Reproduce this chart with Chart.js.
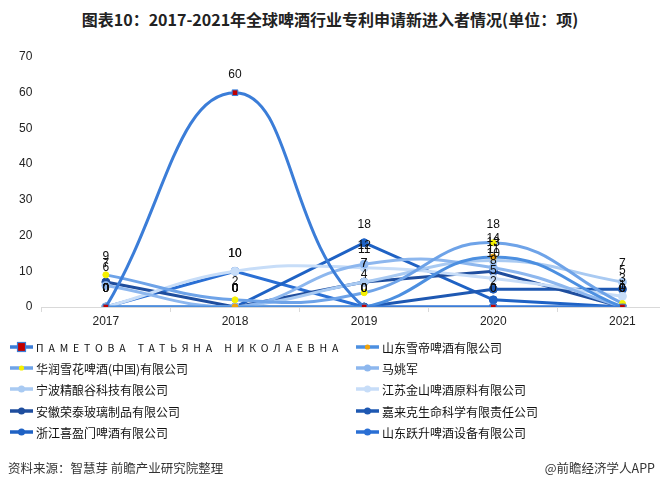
<!DOCTYPE html>
<html>
<head>
<meta charset="utf-8">
<script src="https://cdn.jsdelivr.net/npm/chart.js@4.4.1/dist/chart.umd.min.js"></script>
<style>
  html, body { margin:0; padding:0; width:660px; height:486px; overflow:hidden; background:#fff; font-family:"Noto Sans CJK SC","Noto Sans",sans-serif; }
  #title { position:absolute; left:0; top:8px; width:660px; text-align:center; font-size:16px; font-weight:bold; color:#222; line-height:22px; }
  #wrap { position:absolute; left:0; top:0; width:692px; height:335px; }
  #legend { position:absolute; left:0; top:0; width:660px; height:486px; pointer-events:none; }
  .lg { position:absolute; height:18px; display:flex; align-items:center; font-size:12px; color:#111; white-space:nowrap; }
  .lg svg { margin-right:3px; }
  .ru { font-size:10.5px; letter-spacing:4.85px; }
  #src { position:absolute; left:8px; top:458px; font-size:12.5px; color:#333; }
  #app { position:absolute; right:5px; top:458px; font-size:12.5px; color:#333; }
</style>
</head>
<body>
<div id="title">图表10：2017-2021年全球啤酒行业专利申请新进入者情况(单位：项)</div>
<div id="wrap"><canvas id="c" width="692" height="335"></canvas></div>
<div id="legend"></div>
<div id="src">资料来源：智慧芽 前瞻产业研究院整理</div>
<div id="app">@前瞻经济学人APP</div>
<script>
const years = ["2017", "2018", "2019", "2020", "2021"];
const yTicks = [0, 10, 20, 30, 40, 50, 60, 70];
const seriesNames = [
  "ПАМЕТОВА ТАТЬЯНА НИКОЛАЕВНА",
  "山东雪帝啤酒有限公司",
  "华润雪花啤酒(中国)有限公司",
  "马姚军",
  "宁波精酿谷科技有限公司",
  "江苏金山啤酒原料有限公司",
  "安徽荣泰玻璃制品有限公司",
  "嘉来克生命科学有限责任公司",
  "浙江喜盈门啤酒有限公司",
  "山东跃升啤酒设备有限公司"
];
const pametova   = [0, 60, 0, 0, 0];
const xuedi      = [0, 0, 0, 14, 0];
const huarun     = [9, 2, 4, 18, 1];
const mayaojun   = [6, 0, 12, 11, 0];
const ningbo     = [0, 0, 7, 13, 7];
const jiangsu    = [0, 10, 11, 8, 3];
const anhui      = [7, 0, 7, 10, 0];
const jialaike   = [0, 0, 0, 5, 5];
const zhejiang   = [0, 0, 18, 2, 0];
const yuesheng   = [0, 10, 0, 0, 0];
const seriesValues = [pametova, xuedi, huarun, mayaojun, ningbo, jiangsu, anhui, jialaike, zhejiang, yuesheng];

const lineColors = ["#3B7DD8", "#4C8FE0", "#6EA3E8", "#8DB7EE", "#A9CAF2", "#C7DDF8", "#1F4E9E", "#1E58B2", "#1F62C4", "#2A6FD4"];
const markerColors = ["#C00000", "#F0A30A", "#F5F000", "#8DB7EE", "#A9CAF2", "#C7DDF8", "#1F4E9E", "#1E58B2", "#1F62C4", "#2A6FD4"];
const smooth = [true, true, true, true, true, true, false, false, false, false];

const datasets = seriesValues.map((vals, i) => ({
  label: seriesNames[i],
  data: vals,
  borderColor: lineColors[i],
  borderWidth: 3,
  tension: smooth[i] ? 0.45 : 0,
  pointStyle: i === 0 ? 'rect' : 'circle',
  pointRadius: i === 0 ? 4 : (i === 1 || i === 2 ? 3 : 4),
  pointBackgroundColor: markerColors[i],
  pointBorderColor: i === 0 ? lineColors[0] : markerColors[i],
  pointBorderWidth: 1,
  fill: false
}));

const valueLabels = {
  id: 'valueLabels',
  afterDatasetsDraw(chart) {
    const ctx = chart.ctx;
    ctx.save();
    ctx.font = '12px "Liberation Sans", Arial, sans-serif';
    ctx.fillStyle = '#111';
    ctx.textAlign = 'center';
    ctx.textBaseline = 'middle';
    chart.data.datasets.forEach((ds, di) => {
      const meta = chart.getDatasetMeta(di);
      meta.data.forEach((pt, j) => {
        ctx.fillText(String(ds.data[j]), pt.x, pt.y - 18);
      });
    });
    ctx.restore();
  }
};

new Chart(document.getElementById('c'), {
  type: 'line',
  data: { labels: years, datasets },
  options: {
    responsive: false,
    animation: false,
    devicePixelRatio: 1,
    layout: { padding: { top: 57, right: 4, left: 0, bottom: 0 } },
    plugins: { legend: { display: false }, tooltip: { enabled: false } },
    scales: {
      x: {
        offset: true,
        grid: { display: true, drawOnChartArea: false, drawTicks: true, tickLength: 5, color: '#D9D9D9', offset: true },
        border: { display: true, color: '#D9D9D9', width: 1 },
        ticks: { color: '#222', font: { size: 12, family: '"Liberation Sans", Arial, sans-serif' }, padding: 2 },
        afterFit(s) { s.height = 28; }
      },
      y: {
        min: 0, max: 70,
        afterBuildTicks(s) { s.ticks = yTicks.map(v => ({ value: v })); },
        grid: { display: false, drawTicks: false },
        border: { display: false },
        ticks: { color: '#222', font: { size: 12, family: '"Liberation Sans", Arial, sans-serif' }, padding: 9 },
        afterFit(s) { s.width = 41.3; }
      }
    }
  },
  plugins: [valueLabels]
});

// HTML legend built from series names/colours
const lg = document.getElementById('legend');
const rowsY = [338, 359, 380, 402, 423];
const colIconX = [10, 356];
seriesNames.forEach((name, i) => {
  const row = Math.floor(i / 2), col = i % 2;
  const d = document.createElement('div');
  d.className = 'lg';
  d.style.left = colIconX[col] + 'px';
  d.style.top = rowsY[row] + 'px';
  let marker;
  if (i === 0) marker = '<rect x="7.5" y="4.5" width="8" height="9" fill="' + markerColors[0] + '" stroke="' + lineColors[0] + '" stroke-width="1.2"/>';
  else if (i === 1 || i === 2) marker = '<circle cx="11.5" cy="9" r="2.6" fill="' + markerColors[i] + '"/>';
  else marker = '<circle cx="11.5" cy="9" r="3.5" fill="' + markerColors[i] + '"/>';
  d.innerHTML = '<svg width="23" height="18"><line x1="0" y1="9" x2="23" y2="9" stroke="' + lineColors[i] + '" stroke-width="3.5"/>' + marker + '</svg><span' + (i === 0 ? ' class="ru"' : '') + '>' + name + '</span>';
  lg.appendChild(d);
});
</script>
</body>
</html>
